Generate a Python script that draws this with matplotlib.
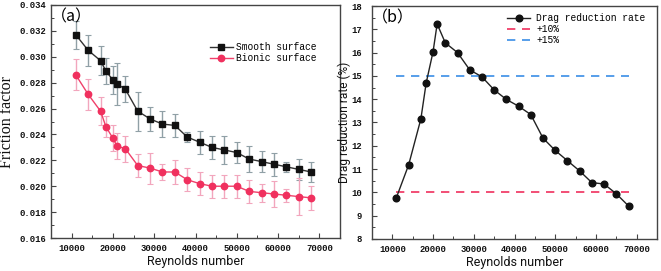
import matplotlib
matplotlib.use('Agg')
import matplotlib.pyplot as plt
from matplotlib.ticker import MultipleLocator, FormatStrFormatter

# ── Data ─────────────────────────────────────────────────────────────────────

reynolds = [11000, 14000, 17000, 18300, 20000, 21000, 23000, 26000, 29000, 32000, 35000,
            38000, 41000, 44000, 47000, 50000, 53000, 56000, 59000, 62000, 65000, 68000]

smooth = [0.0317, 0.0305, 0.0297, 0.0289, 0.0282, 0.0279, 0.0275, 0.0258, 0.0252, 0.0248, 0.0247,
          0.0238, 0.0234, 0.0230, 0.0228, 0.0226, 0.0221, 0.0219, 0.0217, 0.0215, 0.0213, 0.0211]
smooth_err = [0.0011, 0.0012, 0.0011, 0.0010, 0.0011, 0.0016, 0.0010, 0.0015, 0.0009, 0.0010, 0.0009,
              0.0004, 0.0009, 0.0009, 0.0011, 0.0008, 0.0010, 0.0008, 0.0009, 0.0004, 0.0008, 0.0008]

bionic = [0.0286, 0.0271, 0.0258, 0.0246, 0.0237, 0.0231, 0.0229, 0.0216, 0.0214, 0.0211, 0.0211,
          0.0205, 0.0202, 0.0200, 0.0200, 0.0200, 0.0196, 0.0195, 0.0194, 0.0193, 0.0192, 0.0191]
bionic_err = [0.0012, 0.0012, 0.0011, 0.0008, 0.0010, 0.0010, 0.0010, 0.0009, 0.0012, 0.0006, 0.0009,
              0.0009, 0.0009, 0.0009, 0.0009, 0.0009, 0.0009, 0.0007, 0.0010, 0.0005, 0.0014, 0.0009]

drag_reduction = [9.78, 11.18, 13.15, 14.69, 16.04, 17.23, 16.42, 16.0, 15.26, 14.96, 14.4,
                  13.99, 13.7, 13.34, 12.33, 11.8, 11.36, 10.92, 10.42, 10.36, 9.94, 9.42]

ref_levels = [10, 15]
ref_labels = ['+10%', '+15%']

# ── Style ────────────────────────────────────────────────────────────────────

MONO = 'Liberation Mono'
SANS = 'Roboto'
SERIF = 'Liberation Serif'

def style_axes(ax, ypad):
    for s in ax.spines.values():
        s.set_color('#444')
        s.set_linewidth(1.0)
    ax.tick_params(which='both', direction='in', top=False, right=False, colors='#444',
                   labelcolor='#111')
    ax.tick_params(axis='x', pad=4.5)
    ax.tick_params(axis='y', pad=ypad)
    ax.tick_params(which='major', length=3.5, width=0.8)
    ax.tick_params(which='minor', length=2, width=0.7)
    ax.xaxis.set_major_locator(MultipleLocator(10000))
    ax.xaxis.set_minor_locator(MultipleLocator(5000))
    ax.set_xlim(5000, 75000)
    for lab in ax.get_xticklabels() + ax.get_yticklabels():
        lab.set_fontfamily(MONO)
        lab.set_fontweight('bold')
        lab.set_fontsize(6.4)


fig = plt.figure(figsize=(6.61, 2.71), dpi=100)
ax1 = fig.add_axes([51 / 661, 1 - 238 / 271, 289 / 661, 233 / 271])
ax2 = fig.add_axes([372 / 661, 1 - 239 / 271, 285 / 661, 233 / 271])

leg_prop = {'family': MONO, 'size': 6.9}

# ── (a) friction factor ──────────────────────────────────────────────────────

ax1.errorbar(reynolds, smooth, yerr=smooth_err, fmt='none', ecolor='#90a0a6',
             elinewidth=1.0, capsize=2, capthick=0.8, zorder=1)
ax1.errorbar(reynolds, bionic, yerr=bionic_err, fmt='none', ecolor='#f2a6bd',
             elinewidth=1.0, capsize=2, capthick=0.8, zorder=1)
ax1.plot(reynolds, smooth, color='#333', marker='s', markersize=4.2, markerfacecolor='#111',
         markeredgecolor='#111', linewidth=1.0, label='Smooth surface', zorder=3)
ax1.plot(reynolds, bionic, color='#f0406a', marker='o', markersize=4.6, markerfacecolor='#f0305e',
         markeredgecolor='#f0305e', linewidth=1.0, label='Bionic surface', zorder=3)

ax1.set_ylim(0.016, 0.034)
ax1.yaxis.set_major_locator(MultipleLocator(0.002))
ax1.yaxis.set_minor_locator(MultipleLocator(0.001))
ax1.yaxis.set_major_formatter(FormatStrFormatter('%.3f'))
style_axes(ax1, 3.5)
ax1.set_xlabel('Reynolds number', fontfamily=SANS, fontsize=9, color='#111', labelpad=1.5)
ax1.set_ylabel('Friction factor', fontfamily=SERIF, fontsize=11.5, color='#111', labelpad=3)
ax1.text(0.0, 0.948, '（a）', transform=ax1.transAxes, fontfamily='Noto Sans CJK SC',
         fontsize=11.5, va='center', ha='left')
ax1.legend(loc='upper left', bbox_to_anchor=(0.55, 0.84), frameon=False, prop=leg_prop,
           handlelength=2.4, handletextpad=0.3, labelspacing=0.12, borderpad=0,
           borderaxespad=0)

# ── (b) drag reduction rate ──────────────────────────────────────────────────

ax2.plot(reynolds, drag_reduction, color='#222', marker='o', markersize=4.8,
         markerfacecolor='#111', markeredgecolor='#111', linewidth=1.0,
         label='Drag reduction rate', zorder=3)
ref_colors = ['#f0305e', '#3a8ee6']
for lvl, lab, c in zip(ref_levels, ref_labels, ref_colors):
    ax2.plot([reynolds[0], reynolds[-1]], [lvl, lvl], linestyle=(0, (5, 4)), color=c,
             linewidth=1.2, label=lab, zorder=2)

ax2.set_ylim(8, 18)
ax2.yaxis.set_major_locator(MultipleLocator(1))
ax2.yaxis.set_minor_locator(MultipleLocator(0.5))
ax2.yaxis.set_major_formatter(FormatStrFormatter('%d'))
style_axes(ax2, 7)
ax2.set_xlabel('Reynolds number', fontfamily=SANS, fontsize=9, color='#111', labelpad=1.5)
ax2.set_ylabel('Drag reduction rate (%)', fontfamily=SANS, fontsize=8.6, color='#111',
               labelpad=0.5)
ax2.text(0.0, 0.948, '（b）', transform=ax2.transAxes, fontfamily='Noto Sans CJK SC',
         fontsize=11.5, va='center', ha='left')
ax2.legend(loc='upper left', bbox_to_anchor=(0.475, 0.97), frameon=False, prop=leg_prop,
           handlelength=2.4, handletextpad=0.6, labelspacing=0.12, borderpad=0,
           borderaxespad=0)

fig.savefig('out.png', dpi=100)
